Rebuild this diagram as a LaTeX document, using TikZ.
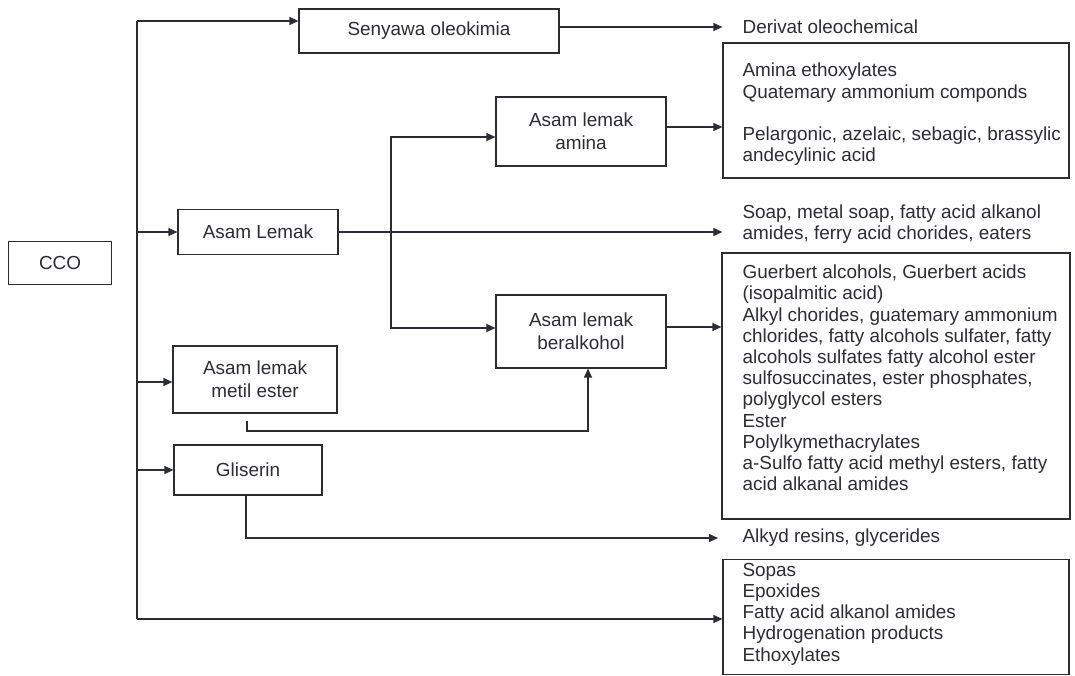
\documentclass[tikz,border=0pt]{standalone}
\usepackage{fontspec}
\setmainfont{Liberation Sans}
\usepackage{xcolor}
\usepackage{tikz}
\usetikzlibrary{positioning, arrows.meta, shapes}
\definecolor{ink}{RGB}{44,44,52}

\begin{document}
\begin{tikzpicture}[x=1pt, y=-1pt, color=ink, line width=1.2pt,
    box/.style={draw, rectangle, inner sep=0pt, align=center,
        font=\fontsize{18.9}{23}\selectfont},
    lst/.style={anchor=west, inner sep=0pt, align=left,
        font=\fontsize{18.9}{21.2}\selectfont},
    arr/.style={-{Triangle[length=9pt, width=8pt]}}]
            \useasboundingbox (0,0) rectangle (1075,676);

            % source and the products of the first step
            \node[box, minimum width=103pt, minimum height=43pt] (cco) at (60,263) {CCO};
            \node[box, minimum width=260pt, minimum height=44pt] (senyawa) at (429,31) {Senyawa oleokimia};
            \node[box, minimum width=160pt, minimum height=45pt] (lemak) at (258,232) {Asam Lemak};
            \node[box, minimum width=164pt, minimum height=67pt] (metil) at (255,379.5) {Asam lemak\\metil ester};
            \node[box, minimum width=148pt, minimum height=50pt] (gliserin) at (248,470) {Gliserin};
            \node[box, minimum width=170pt, minimum height=69pt] (amina) at (581,131.5) {Asam lemak\\amina};
            \node[box, minimum width=170pt, minimum height=73pt] (beral) at (581,331.5) {Asam lemak\\beralkohol};

            % boxes and lists on the right
            \node[box, minimum width=346pt, minimum height=135pt] (aminaout) at (896,110.5) {};
            \node[box, minimum width=348pt, minimum height=266pt] (beralout) at (896,386) {};
            \node[box, minimum width=346pt, minimum height=115pt] (sisaout) at (896,617) {};

            \node[lst] (derivat) at (742,27) {Derivat oleochemical};
            \node[lst] (aminatxt) at (742,114.5) {Amina ethoxylates\\Quatemary ammonium componds\\[21.2pt]Pelargonic, azelaic, sebagic, brassylic\\andecylinic acid};
            \node[lst] (soap) at (742,224) {Soap, metal soap, fatty acid alkanol\\amides, ferry acid chorides, eaters};
            \node[lst] (beraltxt) at (742,378) {Guerbert alcohols, Guerbert acids\\(isopalmitic acid)\\Alkyl chorides, guatemary ammonium\\chlorides, fatty alcohols sulfater, fatty\\alcohols sulfates fatty alcohol ester\\sulfosuccinates, ester phosphates,\\polyglycol esters\\Ester\\Polylkymethacrylates\\a-Sulfo fatty acid methyl esters, fatty\\acid alkanal amides};
            \node[lst] (alkyd) at (742,538) {Alkyd resins, glycerides};
            \node[lst] (sisatxt) at (742,614) {Sopas\\Epoxides\\Fatty acid alkanol amides\\Hydrogenation products\\Ethoxylates};

            % trunk
            \foreach \n/\y in {senyawa/21, lemak/232, metil/382, gliserin/470}
            \coordinate (t-\n) at (137,\y);
            \coordinate (bot) at (137,619);
            \draw (t-senyawa) -- (bot);
            \foreach \n in {senyawa, lemak, metil, gliserin}
            \draw[arr] (t-\n) -- (t-\n -| \n.west);
            \draw[arr] (bot) -- (bot -| sisaout.west);

            \draw[arr] (senyawa.east |- derivat.west) -- (aminaout.west |- derivat.west);

            % fatty acid branches
            \coordinate (j) at (391,232);
            \draw (lemak.east) -- (j);
            \draw[arr] (j) -- (j -| aminaout.west);
            \draw[arr] (j) |- ([yshift=-5.5pt]amina.west);
            \draw[arr] (j) |- ([yshift=3.5pt]beral.west);
            \draw[arr] ([yshift=4.5pt]amina.east) -- ([yshift=4.5pt]amina.east -| aminaout.west);
            \draw[arr] ([yshift=4.5pt]beral.east) -- ([yshift=4.5pt]beral.east -| beralout.west);

            \coordinate (m) at (588,431);
            \draw[arr] ([xshift=-8pt, yshift=-7pt]metil.south) |- (m) -- (m |- beral.south);
            \draw[arr] ([xshift=-2pt]gliserin.south) |- ([xshift=-24pt]alkyd.west);
        \end{tikzpicture}
\end{document}
